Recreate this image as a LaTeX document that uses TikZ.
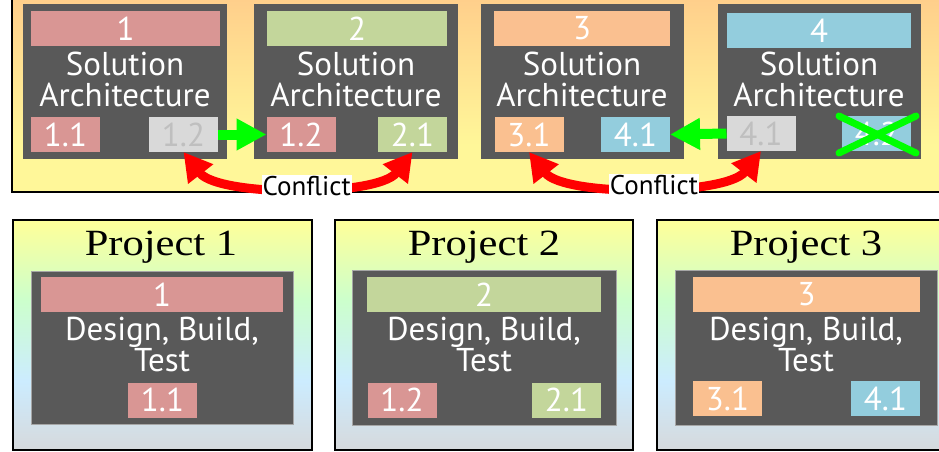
\documentclass[tikz,border=0pt]{standalone}
\usepackage{fontspec}
\newfontfamily\bxf{PT Sans}
\newfontfamily\ttlf{Liberation Serif}[FakeStretch=1.15]
\usetikzlibrary{arrows.meta}
\definecolor{dg}{HTML}{595959}
\definecolor{cpink}{HTML}{D99694}
\definecolor{cgreen}{HTML}{C3D69B}
\definecolor{corange}{HTML}{FAC090}
\definecolor{cblue}{HTML}{93CDDD}
\definecolor{cgray}{HTML}{D9D9D9}
\definecolor{cgtext}{HTML}{BFBFBF}
\definecolor{gtop}{HTML}{FFCE8B}
\definecolor{gylw}{HTML}{FFF799}
\definecolor{bylw}{HTML}{FFFF99}
\definecolor{bgrn}{HTML}{CCFFCC}
\definecolor{bblu}{HTML}{CCECFF}
\definecolor{bgry}{HTML}{D6D9DC}
\definecolor{lime}{HTML}{00FF00}
\definecolor{rd}{HTML}{FF0000}
\pgfdeclareverticalshading{botgrad}{100bp}{color(0bp)=(bgry); color(25bp)=(bgry); color(40bp)=(bblu); color(57.6bp)=(bgrn); color(75bp)=(bylw); color(100bp)=(bylw)}
\tikzset{
  blk/.style={inner sep=0pt, outer sep=0pt, anchor=center},
  dark/.style={blk, fill=dg},
  darkb/.style={blk, fill=dg, draw=black!35, line width=0.8pt},
  hdr/.style={blk, text=white, font=\bxf\fontsize{33}{31}\selectfont, minimum height=35pt},
  tag/.style={blk, text=white, font=\bxf\fontsize{33}{31}\selectfont, minimum width=69pt, minimum height=35pt},
  gtag/.style={tag, fill=cgray, text=cgtext},
  lbl/.style={blk, text=white, align=center, font=\bxf\fontsize{33}{31}\selectfont},
  frame/.style={draw=black, line width=1.5pt},
  ttl/.style={inner sep=0pt, anchor=base, font=\ttlf\fontsize{37}{40}\selectfont},
  garrow/.style={draw=lime, line width=10pt, -{Triangle[length=30pt,width=30pt]}},
  rarrow/.style={draw=rd, line width=9pt, {Triangle[length=28pt,width=30pt]}-{Triangle[length=28pt,width=30pt]}},
  conf/.style={fill=white, text=black, inner sep=1pt, font=\bxf\fontsize{27}{27}\selectfont},
  cross/.style={draw=lime, line width=7pt, line cap=round}
}
\begin{document}
\begin{tikzpicture}[x=1pt, y=-1pt]
\useasboundingbox (0,0) rectangle (939,452);
\clip (0,0) rectangle (939,452);
% panels, drawn with an upward y axis so that shadings keep their orientation
\begin{scope}[y=1pt]
\fill[gylw] (12,4) rectangle (980,-192);
\shade[top color=gtop, bottom color=gylw] (12,4) rectangle (980,-145);
\draw[frame] (12,4) rectangle (980,-192);
\path[shading=botgrad, frame] (13,-220) rectangle (312,-450);
\path[shading=botgrad, frame] (335,-220) rectangle (633,-450);
\path[shading=botgrad, frame] (657,-220) rectangle (956,-450);
\end{scope}
% top boxes
\node[dark, minimum width=204pt, minimum height=155pt] (A1) at (125,81.5) {};
\node[dark, minimum width=204pt, minimum height=155pt] (A2) at (356,81.5) {};
\node[dark, minimum width=203pt, minimum height=155pt] (A3) at (582,81.5) {};
\node[dark, minimum width=203pt, minimum height=155pt] (A4) at (819.5,81.5) {};
\node[hdr, fill=cpink, minimum width=189pt] (H1) at (125.5,28.5) {1};
\node[hdr, fill=cgreen, minimum width=180pt] (H2) at (357,28.5) {2};
\node[hdr, fill=corange, minimum width=176pt] (H3) at (582,28.5) {3};
\node[hdr, fill=cblue, minimum width=184pt] (H4) at (819,30.5) {4};
\node[lbl] (L1) at (125,79) {Solution\\Architecture};
\node[lbl] (L2) at (356,79) {Solution\\Architecture};
\node[lbl] (L3) at (582,79) {Solution\\Architecture};
\node[lbl] (L4) at (819,79) {Solution\\Architecture};
\node[tag, fill=cpink] (a11) at (65.5,134.5) {1.1};
\node[gtag] (a12) at (183.5,134.5) {1.2};
\node[tag, fill=cpink] (b12) at (301,134.5) {1.2};
\node[tag, fill=cgreen] (b21) at (412.5,134.5) {2.1};
\node[tag, fill=corange] (c31) at (529,134.5) {3.1};
\node[tag, fill=cblue] (c41) at (635.5,134.5) {4.1};
\node[gtag] (d41) at (761,133.5) {4.1};
\node[tag, fill=cblue] (d42) at (876.5,133.5) {4.2};
% green arrows
\draw[garrow] (a12.east) -- (b12.west);
\draw[garrow] (d41.west) -- (c41.east);
% red conflict arrows
\draw[rarrow] (a12.south) .. controls +(35,45) and +(-35,45) .. (b21.south)
  node[conf, pos=0.53] (k1) {Conflict};
\draw[rarrow] (c31.south) .. controls +(35,45) and +(-35,45) .. (d41.south)
  node[conf, pos=0.53] (k2) {Conflict};
% cross
\coordinate (x1) at (839,116);
\coordinate (x2) at (916,153);
\coordinate (x3) at (839,153);
\coordinate (x4) at (916,116);
\draw[cross] (x1) -- (x2);
\draw[cross] (x3) -- (x4);
% bottom projects
\node[ttl] (T1) at (161,255) {Project 1};
\node[ttl] (T2) at (484,255) {Project 2};
\node[ttl] (T3) at (806,255) {Project 3};
\node[darkb, minimum width=262pt, minimum height=153pt] (P1) at (162,347.5) {};
\node[darkb, minimum width=264pt, minimum height=155pt] (P2) at (484,347.5) {};
\node[darkb, minimum width=262pt, minimum height=155pt] (P3) at (806,347.5) {};
\node[hdr, fill=cpink, minimum width=242pt] (Q1) at (162,294.5) {1};
\node[hdr, fill=cgreen, minimum width=234pt] (Q2) at (484,294.5) {2};
\node[hdr, fill=corange, minimum width=227pt] (Q3) at (806.5,294.5) {3};
\node[lbl] (M1) at (162,345) {Design, Build,\\Test};
\node[lbl] (M2) at (484,345) {Design, Build,\\Test};
\node[lbl] (M3) at (806,345) {Design, Build,\\Test};
\node[tag, fill=cpink] (p11) at (162.5,400) {1.1};
\node[tag, fill=cpink] (p12) at (402,400) {1.2};
\node[tag, fill=cgreen] (p21) at (566.5,400) {2.1};
\node[tag, fill=corange] (p31) at (727.5,398.5) {3.1};
\node[tag, fill=cblue] (p41) at (885.5,398.5) {4.1};
\end{tikzpicture}
\end{document}
